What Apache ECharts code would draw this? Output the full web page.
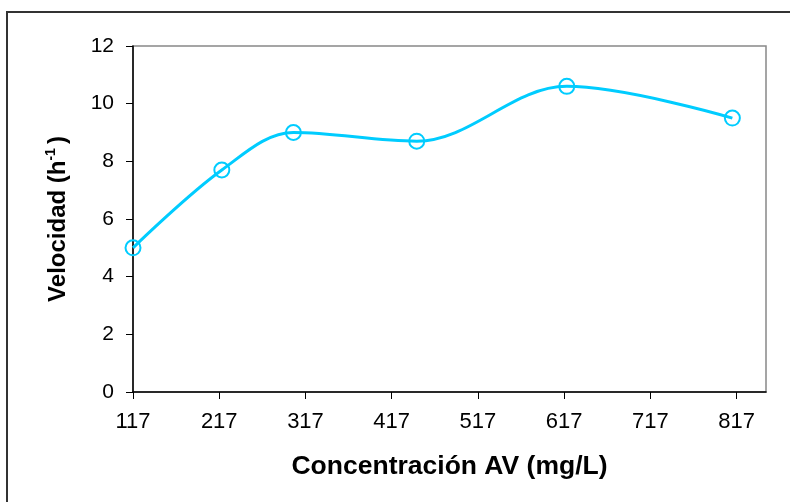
<!DOCTYPE html>
<html>
<head>
<meta charset="utf-8">
<script src="https://cdn.jsdelivr.net/npm/echarts@6/dist/echarts.min.js"></script>
<style>
  html, body { margin: 0; padding: 0; background: #fff; }
  #chart { width: 790px; height: 502px; }
</style>
</head>
<body>
<div id="chart"></div>
<script>
// valores
var concentracion = [117, 220, 303, 446, 620, 812];
var velocidad = [5.0, 7.7, 9.0, 8.7, 10.6, 9.5];
var xTicks = [117, 217, 317, 417, 517, 617, 717, 817];

var font = 'Liberation Sans, Arial, sans-serif';
var cyan = '#00CCFF';

var puntos = concentracion.map(function (x, i) { return [x, velocidad[i]]; });

var chart = echarts.init(document.getElementById('chart'));
chart.setOption({
  backgroundColor: '#fff',
  animation: false,
  graphic: [{
    type: 'rect',
    shape: { x: 7, y: 12, width: 820, height: 520 },
    style: { fill: 'none', stroke: '#333', lineWidth: 2 },
    silent: true
  }],
  grid: {
    left: 133, right: 24, top: 46, bottom: 110,
    show: true, borderColor: '#888', borderWidth: 1.5
  },
  xAxis: {
    type: 'value',
    min: 117,
    max: 851,
    name: 'Concentración AV (mg/L)',
    nameLocation: 'middle',
    nameGap: 61,
    nameTextStyle: { fontFamily: font, fontSize: 26.5, fontWeight: 'bold', color: '#000' },
    axisLine: { show: true, lineStyle: { color: '#000', width: 1.5 } },
    axisTick: { show: true, length: 7, customValues: xTicks, lineStyle: { color: '#000', width: 1 } },
    axisLabel: { customValues: xTicks, margin: 19, fontFamily: font, fontSize: 22, color: '#000' },
    splitLine: { show: false }
  },
  yAxis: {
    type: 'value',
    min: 0,
    max: 12,
    interval: 2,
    name: 'Velocidad (h{sup|-1})',
    nameLocation: 'middle',
    nameGap: 61,
    nameTextStyle: {
      fontFamily: font, fontSize: 24, fontWeight: 'bold', color: '#000', lineHeight: 28,
      rich: {
        sup: { fontFamily: font, fontSize: 14, fontWeight: 'bold', color: '#000', verticalAlign: 'top', lineHeight: 14, padding: [0, 4, 0, 0] }
      }
    },
    axisLine: { show: true, lineStyle: { color: '#000', width: 1.5 } },
    axisTick: { show: true, length: 7, lineStyle: { color: '#000', width: 1 } },
    axisLabel: { margin: 19, fontFamily: font, fontSize: 21, color: '#000' },
    splitLine: { show: false }
  },
  series: [{
    type: 'line',
    data: puntos,
    smooth: 0.35,
    symbol: 'circle',
    symbolSize: 15,
    lineStyle: { color: cyan, width: 3 },
    itemStyle: { color: 'rgba(0,0,0,0)', borderColor: cyan, borderWidth: 2 }
  }]
});
</script>
</body>
</html>
